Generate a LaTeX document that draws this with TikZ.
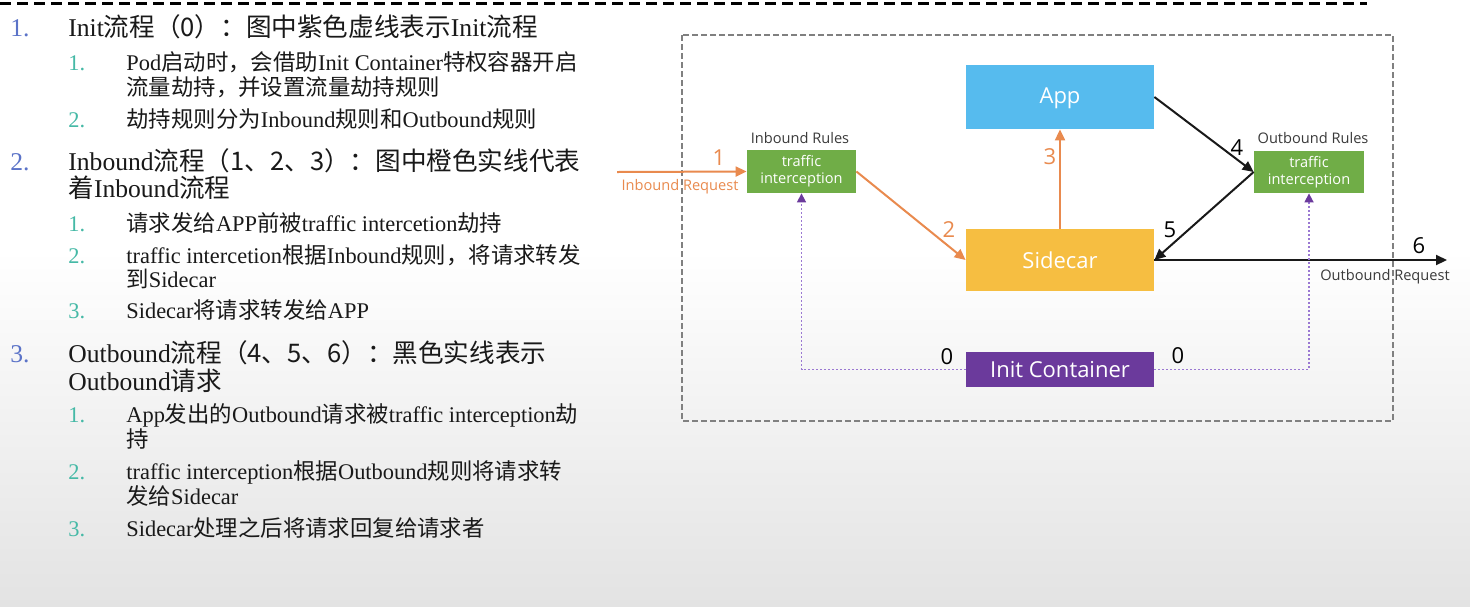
\documentclass[tikz,border=0pt]{standalone}
\usepackage{fontspec}
\setmainfont{Liberation Serif}
\newfontfamily\cjk{Noto Sans CJK SC}
\newfontfamily\diagfont{Open Sans}
\usetikzlibrary{arrows.meta}
\newcommand\zh[1]{{\cjk #1}}
\definecolor{numblue}{HTML}{5B73C8}
\definecolor{numteal}{HTML}{45B9A6}
\definecolor{appblue}{HTML}{56BBEE}
\definecolor{sideyellow}{HTML}{F6BE41}
\definecolor{rulegreen}{HTML}{70AD47}
\definecolor{initpurple}{HTML}{6B3A9C}
\definecolor{dotpurple}{HTML}{9A78D2}
\definecolor{inorange}{HTML}{E98A4E}
\definecolor{labelgray}{HTML}{3A3A3A}
\begin{document}
\begin{tikzpicture}[x=0.5pt,y=-0.5pt,
  lvlone/.style={anchor=base west, inner sep=0pt, font=\fontsize{12.8}{15}\selectfont, text=black!90},
  lvltwo/.style={anchor=base west, inner sep=0pt, font=\fontsize{11.2}{13}\selectfont, text=black!90},
  numone/.style={lvlone, text=numblue},
  numtwo/.style={lvltwo, text=numteal},
  box/.style={rectangle, inner sep=0pt, text=white, font=\diagfont\fontsize{11}{13}\selectfont},
  rulebox/.style={rectangle, fill=rulegreen, inner sep=0pt, minimum width=54.5pt, minimum height=21.5pt,
    text=white, align=center, font=\diagfont\fontsize{7.3}{8.4}\selectfont},
  smalllbl/.style={inner sep=0pt, font=\diagfont\fontsize{7.3}{9}\selectfont, text=labelgray},
  steplbl/.style={inner sep=0pt, font=\diagfont\fontsize{11}{13}\selectfont, text=black},
  inflow/.style={draw=inorange, line width=1pt, -{Triangle[length=5.5pt,width=5pt]}},
  outflow/.style={draw=black!90, line width=1pt, -{Triangle[length=5.5pt,width=5pt]}},
  initflow/.style={draw=dotpurple, line width=0.8pt, dash pattern=on 0.9pt off 1.1pt,
    -{Triangle[length=4.5pt,width=4.5pt,fill=initpurple,color=initpurple]}},
]
\useasboundingbox (0,0) rectangle (1470,606);

% page background with a soft gray fade towards the bottom
\fill[white] (0,0) rectangle (1470,606);
\shade[top color=white, bottom color=black!11] (0,250) rectangle (1470,606);

% header rule
\draw[black, line width=1.5pt, dash pattern=on 5.5pt off 3pt] (0,3) -- (1367,3);

% ---------------- numbered description ----------------
\node[numone] (m1n) at (10,36) {1.};
\node[lvlone] (m1a) at (68,36) {Init\zh{流程（0）：图中紫色虚线表示}Init\zh{流程}};
\node[numtwo] (s11n) at (68,70) {1.};
\node[lvltwo] (s11a) at (126,70) {Pod\zh{启动时，会借助}Init Container\zh{特权容器开启}};
\node[lvltwo] (s11b) at (126,95) {\zh{流量劫持，并设置流量劫持规则}};
\node[numtwo] (s12n) at (68,127) {2.};
\node[lvltwo] (s12a) at (126,127) {\zh{劫持规则分为}Inbound\zh{规则和}Outbound\zh{规则}};

\node[numone] (m2n) at (10,170) {2.};
\node[lvlone] (m2a) at (68,170) {Inbound\zh{流程（1、2、3）：图中橙色实线代表}};
\node[lvlone] (m2b) at (68,197) {\zh{着}Inbound\zh{流程}};
\node[numtwo] (s21n) at (68,231) {1.};
\node[lvltwo] (s21a) at (126,231) {\zh{请求发给}APP\zh{前被}traffic intercetion\zh{劫持}};
\node[numtwo] (s22n) at (68,263) {2.};
\node[lvltwo] (s22a) at (126,263) {traffic intercetion\zh{根据}Inbound\zh{规则，将请求转发}};
\node[lvltwo] (s22b) at (126,287) {\zh{到}Sidecar};
\node[numtwo] (s23n) at (68,318) {3.};
\node[lvltwo] (s23a) at (126,318) {Sidecar\zh{将请求转发给}APP};

\node[numone] (m3n) at (10,362) {3.};
\node[lvlone] (m3a) at (68,362) {Outbound\zh{流程（4、5、6）：黑色实线表示}};
\node[lvlone] (m3b) at (68,390) {Outbound\zh{请求}};
\node[numtwo] (s31n) at (68,422) {1.};
\node[lvltwo] (s31a) at (126,422) {App\zh{发出的}Outbound\zh{请求被}traffic interception\zh{劫}};
\node[lvltwo] (s31b) at (126,447) {\zh{持}};
\node[numtwo] (s32n) at (68,479) {2.};
\node[lvltwo] (s32a) at (126,479) {traffic interception\zh{根据}Outbound\zh{规则将请求转}};
\node[lvltwo] (s32b) at (126,504) {\zh{发给}Sidecar};
\node[numtwo] (s33n) at (68,536) {3.};
\node[lvltwo] (s33a) at (126,536) {Sidecar\zh{处理之后将请求回复给请求者}};

% ---------------- pod diagram ----------------
\draw[black!50, line width=0.7pt, dash pattern=on 3pt off 1.5pt] (682,35) rectangle (1393,421);

\node[box, fill=appblue, minimum width=94pt, minimum height=32pt, text height=6pt, text depth=0pt] (app) at (1060,97) {App};
\node[box, fill=sideyellow, minimum width=94pt, minimum height=31pt] (side) at (1060,260) {Sidecar};
\node[box, fill=initpurple, minimum width=94pt, minimum height=17.5pt] (init) at (1060,369.5) {Init Container};

\node[rulebox] (inb) at (801.5,171.5) {traffic\\interception};
\node[rulebox, minimum width=55pt, minimum height=21pt] (outb) at (1309,172) {traffic\\interception};
\node[smalllbl] (inrules) at (800,138) {Inbound Rules};
\node[smalllbl] (outrules) at (1313,138) {Outbound Rules};

\coordinate (reqin) at (617,172);
\coordinate (reqout) at (1447,260);

% inbound path
\draw[inflow] (reqin) -- (inb.west);
\draw[inflow] (inb.east) -- (side.west);
\draw[inflow] (side.north) -- (app.south);
% outbound path
\draw[outflow] (app.east) -- (outb.west);
\draw[outflow] (outb.west) -- (side.east);
\draw[outflow] (side.east) -- (reqout);
% init path
\draw[initflow] (init.west) -| (inb.south);
\draw[initflow] (init.east) -| (outb.south);

% step labels
\node[steplbl, text=inorange] (l1) at (719,158) {1};
\node[smalllbl, text=inorange] (inreq) at (680,187) {Inbound Request};
\node[steplbl, text=inorange] (l2) at (949,230) {2};
\node[steplbl, text=inorange] (l3) at (1050,157) {3};
\node[steplbl] (l4) at (1237,148) {4};
\node[steplbl] (l5) at (1170,230) {5};
\node[steplbl] (l6) at (1419,246) {6};
\node[smalllbl] (outreq) at (1385,277) {Outbound Request};
\node[steplbl] (l0a) at (947,357) {0};
\node[steplbl] (l0b) at (1178,356) {0};
\end{tikzpicture}
\end{document}
